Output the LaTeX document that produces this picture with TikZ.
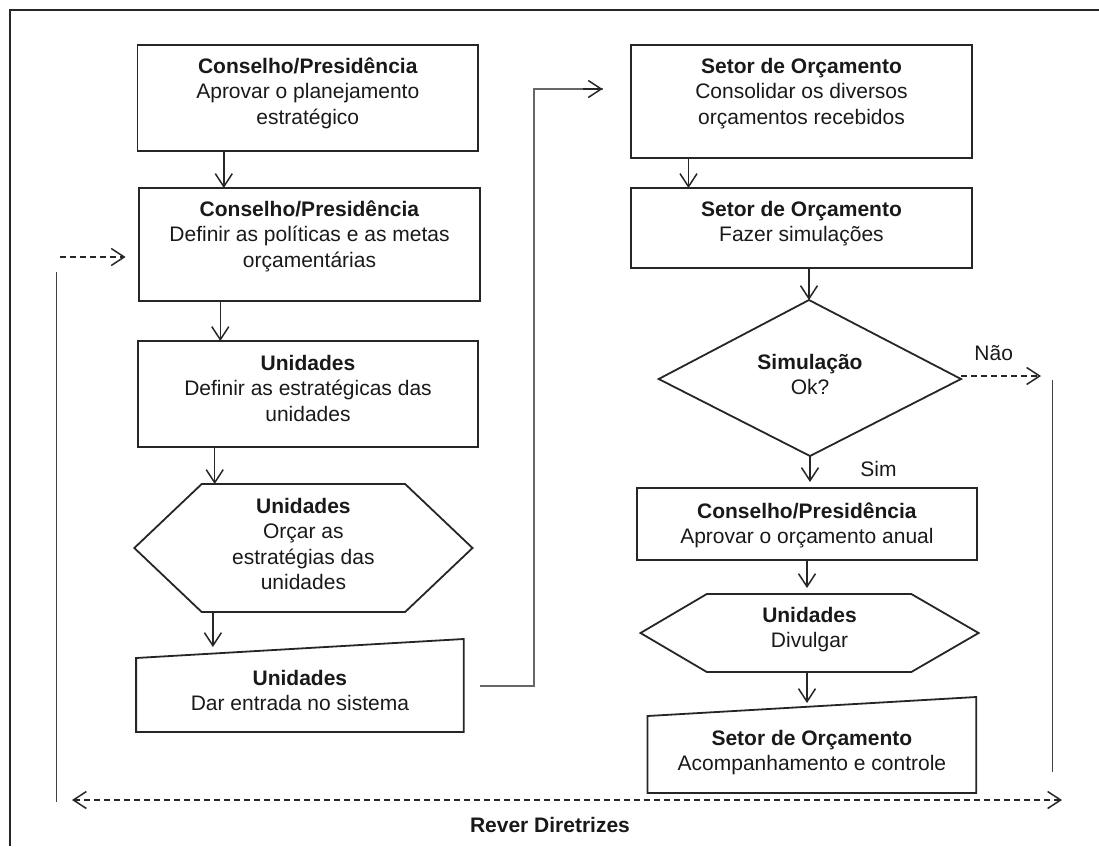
\documentclass[tikz,border=0pt]{standalone}
\usepackage{fontspec}
\setmainfont{Liberation Sans}
\usetikzlibrary{arrows.meta,calc}
\newcommand{\fst}{\rule{0pt}{20pt}}
\begin{document}
\begin{tikzpicture}[x=1pt,y=-1pt,
  shp/.style={draw=black!85, line width=1.8pt, line join=miter},
  boxn/.style={shp, rectangle, inner sep=0pt, outer sep=0pt},
  txt/.style={align=center, inner sep=0pt, anchor=north, text=black!90, font=\fontsize{21}{25.5}\selectfont},
  lbl/.style={inner sep=0pt, anchor=base, text=black!90, font=\fontsize{21}{25.5}\selectfont},
  arr/.style={line width=1.5pt, draw=black!85, -{Straight Barb[length=13pt,width=17pt]}},
  darr/.style={arr, dash pattern=on 6pt off 4pt},
  gline/.style={line width=1.8pt, draw=black!60},
  vline/.style={line width=1.6pt, draw=black!75},
]
\useasboundingbox (0,0) rectangle (1099,846);
% frame
\draw[line width=1.6pt, black!85] (10,846) -- (10,10) -- (1099,10);

% rectangles
\node[boxn, minimum width=340.6pt, minimum height=106pt] (b1) at (307.8,98) {};
\node[boxn, minimum width=340.6pt, minimum height=113pt] (b2) at (309.5,244.5) {};
\node[boxn, minimum width=340.3pt, minimum height=106pt] (b3) at (308,394) {};
\node[boxn, minimum width=341pt, minimum height=113pt] (b4) at (801.5,101.5) {};
\node[boxn, minimum width=341pt, minimum height=80pt] (b5) at (801.5,228) {};
\node[boxn, minimum width=340.6pt, minimum height=72pt] (b6) at (806.9,524) {};

% hexagons, diamond, manual inputs
\draw[shp] (134.3,548) coordinate (h1w) -- (201.7,484) -- (405.1,484) -- (472.5,548) -- (405.1,612) -- (201.7,612) -- cycle;
\draw[shp] (640.5,633) coordinate (h2w) -- (706.8,594) -- (911.3,594) -- (978.6,633) -- (911.3,672) -- (706.8,672) -- cycle;
\draw[shp] (809,300) coordinate (dn) -- (961,379) coordinate (de) -- (810,456) coordinate (ds) -- (658.7,379) -- cycle;
\draw[shp] (136.1,658) -- (463.7,639) -- (463.7,732) -- (136.1,732) -- cycle;
\draw[shp] (647.5,716) -- (976.2,697) -- (976.2,793) -- (647.5,793) -- cycle;

% connector end points
\coordinate (a1s) at (223.8,151); \coordinate (a1e) at (223.8,188);
\coordinate (a2s) at (220.3,301); \coordinate (a2e) at (220.3,341);
\coordinate (a3s) at (214.7,447); \coordinate (a3e) at (214.7,484);
\coordinate (a4s) at (212.9,612); \coordinate (a4e) at (212.9,647);
\coordinate (m1r) at (479.8,686); \coordinate (c1) at (534,686); \coordinate (c2) at (534,89); \coordinate (a5e) at (602.6,89);
\coordinate (a6s) at (688.5,158); \coordinate (a6e) at (688.5,188);
\coordinate (a7s) at (809,268);
\coordinate (a8e) at (810,482);
\coordinate (a9s) at (807,560); \coordinate (a9e) at (807,588);
\coordinate (a10s) at (807,672); \coordinate (a10e) at (807,703);
\coordinate (nao) at (1041,376); \coordinate (naos) at (961,376);
\coordinate (rv1) at (1052.3,380); \coordinate (rv2) at (1052.3,772);
\coordinate (lv1) at (56.5,272); \coordinate (lv2) at (56.5,802);
\coordinate (bl) at (72,800); \coordinate (br) at (1062,800);
\coordinate (ld1) at (60.3,257); \coordinate (ld2) at (125.6,257);

\draw[arr] (a1s) -- (a1e);
\draw[arr] (a2s) -- (a2e);
\draw[arr] (a3s) -- (a3e);
\draw[arr] (a4s) -- (a4e);
\draw[gline] (m1r) -- (c1) -- (c2) -- (a5e);
\draw[arr] ($(a5e)+(-20,0)$) -- (a5e);
\draw[arr] (a6s) -- (a6e);
\draw[arr] (a7s) -- (dn);
\draw[arr] (ds) -- (a8e);
\draw[arr] (a9s) -- (a9e);
\draw[arr] (a10s) -- (a10e);
\draw[darr] (naos) -- (nao);
\draw[vline] (rv1) -- (rv2);
\draw[vline] (lv1) -- (lv2);
\draw[darr] (ld1) -- (ld2);
\draw[darr, {Straight Barb[length=13pt,width=17pt]}-{Straight Barb[length=13pt,width=17pt]}] (bl) -- (br);

% texts
\node[txt] (t1) at (307.8,53) {\fst\textbf{Conselho/Presidência}\\Aprovar o planejamento\\estratégico};
\node[txt] (t2) at (309.5,196) {\fst\textbf{Conselho/Presidência}\\Definir as políticas e as metas\\orçamentárias};
\node[txt] (t3) at (308,350) {\fst\textbf{Unidades}\\Definir as estratégicas das\\unidades};
\node[txt] (th1) at (303.4,493) {\fst\textbf{Unidades}\\Orçar as\\estratégias das\\unidades};
\node[txt] (tm1) at (299.9,665) {\fst\textbf{Unidades}\\Dar entrada no sistema};
\node[txt] (t4) at (801.5,53) {\fst\textbf{Setor de Orçamento}\\Consolidar os diversos\\orçamentos recebidos};
\node[txt] (t5) at (801.5,196) {\fst\textbf{Setor de Orçamento}\\Fazer simulações};
\node[txt] (td) at (810,349) {\fst\textbf{Simulação}\\Ok?};
\node[txt] (t6) at (806.9,498) {\fst\textbf{Conselho/Presidência}\\Aprovar o orçamento anual};
\node[txt] (th2) at (809.5,602) {\fst\textbf{Unidades}\\Divulgar};
\node[txt] (tm2) at (811.9,725) {\fst\textbf{Setor de Orçamento}\\Acompanhamento e controle};
\node[lbl] (lnao) at (993.7,360) {Não};
\node[lbl] (lsim) at (878.5,476) {Sim};
\node[lbl, font=\fontsize{21}{25.5}\selectfont\bfseries] (lrev) at (550,832) {Rever Diretrizes};
\end{tikzpicture}
\end{document}
